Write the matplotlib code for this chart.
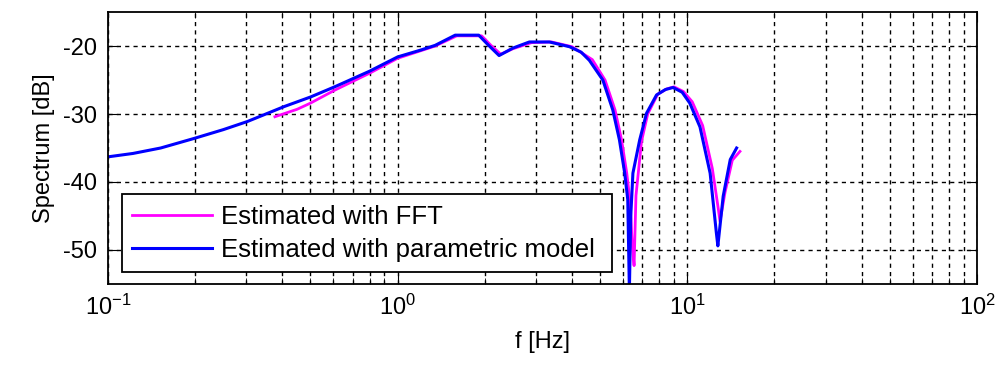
import numpy as np
import matplotlib.pyplot as plt

plt.rcParams['font.family'] = ['Liberation Sans', 'DejaVu Sans']
plt.rcParams['mathtext.fontset'] = 'custom'
plt.rcParams['mathtext.rm'] = 'Liberation Sans'
plt.rcParams['mathtext.default'] = 'regular'
plt.rcParams['axes.unicode_minus'] = False

# parametric model spectrum (blue)
f_par = [0.1, 0.122, 0.152, 0.198, 0.25, 0.303, 0.406, 0.5, 0.606, 0.8, 1.0, 1.2, 1.347, 1.58,
         1.905, 2.05, 2.24, 2.5, 2.85, 3.34, 3.92, 4.3, 4.59, 5.11, 5.53, 5.83, 6.08, 6.23, 6.31,
         6.38, 6.49, 6.85, 7.23, 7.83, 8.4, 8.93, 9.6, 10.2, 11.06, 11.99, 12.6, 12.75, 13.3, 14.07, 14.8]
s_par = [-36.3, -35.8, -35.0, -33.6, -32.3, -31.1, -28.9, -27.5, -26.0, -23.7, -21.6, -20.6, -19.9, -18.4,
         -18.4, -19.8, -21.4, -20.3, -19.4, -19.4, -20.1, -20.9, -22.1, -25.0, -29.4, -33.8, -38.7, -42.6, -56.0,
         -45.0, -38.7, -33.8, -29.9, -27.2, -26.4, -26.1, -26.8, -28.4, -31.9, -38.7, -47.5, -49.4, -42.1, -36.7, -35.0]

# FFT estimate (magenta)
f_fft = [0.377, 0.45, 0.5, 0.606, 0.8, 1.0, 1.2, 1.347, 1.6, 1.95, 2.1, 2.27, 2.5, 2.9, 3.4,
         4.0, 4.7, 5.2, 5.63, 5.93, 6.18, 6.35, 6.45, 6.55, 6.65, 6.95, 7.3, 7.9, 8.5, 9.0, 9.7, 10.4,
         11.3, 12.2, 12.8, 12.97, 13.5, 14.3, 15.2]
s_fft = [-30.4, -29.3, -28.4, -26.5, -24.0, -21.8, -20.7, -20.0, -18.5, -18.5, -19.9, -21.2, -20.4,
         -19.5, -19.4, -20.1, -22.0, -25.0, -29.4, -33.8, -38.7, -43.0, -49.0, -52.3, -42.0, -34.0,
         -30.0, -27.1, -26.3, -26.0, -26.7, -28.2, -31.7, -38.0, -44.0, -45.8, -41.5, -36.8, -35.5]

fig = plt.figure(figsize=(9.97, 3.65), dpi=100)
ax = fig.add_axes([0.1083, 0.222, 0.8716, 0.745])

ax.semilogx(f_fft, s_fft, color='#ff00ff', lw=2.0, label='Estimated with FFT')
ax.semilogx(f_par, s_par, color='#0000ff', lw=2.2, label='Estimated with parametric model')

ax.set_xlim(0.1, 100)
ax.set_ylim(-55, -15)
ax.set_yticks([-50, -40, -30, -20])
ax.grid(True, which='both', axis='x', color='black', linestyle=(0, (3, 3)), lw=1.0)
ax.grid(True, which='major', axis='y', color='black', linestyle=(0, (3, 3)), lw=1.0)
ax.tick_params(which='both', direction='in', top=True, right=True, labelsize=17, pad=8)
ax.tick_params(which='major', length=7)
ax.tick_params(which='minor', length=4)
for sp in ax.spines.values():
    sp.set_linewidth(1.3)

ax.set_xlabel('f [Hz]', fontsize=17, labelpad=8)
ax.set_ylabel('Spectrum [dB]', fontsize=17, labelpad=6)

leg = ax.legend(loc='lower left', bbox_to_anchor=(0.0158, 0.044, 0.564, 0.309), mode='expand',
                fontsize=18.5, fancybox=False, framealpha=1, edgecolor='black', handlelength=3.1,
                handletextpad=0.35, borderaxespad=0, labelspacing=0.35)
leg.get_frame().set_linewidth(1.3)

fig.savefig('out.png', dpi=100)
